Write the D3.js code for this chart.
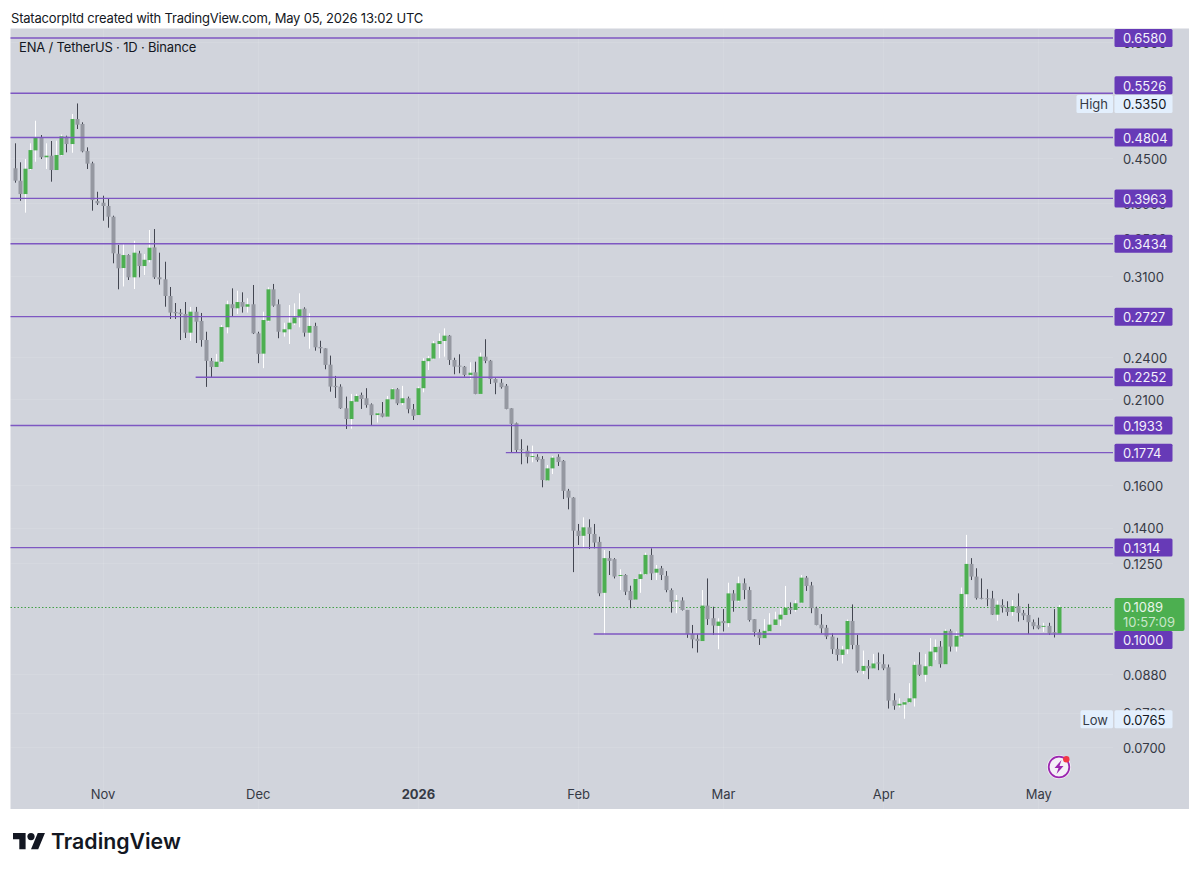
<!DOCTYPE html>
<html>
<head>
<meta charset="utf-8">
<title>ENA / TetherUS 1D</title>
<script src="https://cdnjs.cloudflare.com/ajax/libs/d3/7.8.5/d3.min.js"></script>
<style>
html,body{margin:0;padding:0;background:#fff;}
svg{display:block;}
text{font-family:Inter,"Noto Sans",sans-serif;}
</style>
</head>
<body>
<svg id="chart" width="1200" height="873"></svg>
<script>
// Daily ENA/USDT candles, one entry per session starting 15 Oct 2025.
const firstDay = new Date(Date.UTC(2025, 9, 15));
const lastDay = new Date(Date.UTC(2026, 4, 5));

const opens = [
.4359,.4191,.4018,.4349,.4613,.4812,.4513,.4536,.4335,.4546,
.4817,.4706,.5093,.5014,.4603,.4428,.3930,.3909,.3869,.3740,
.3327,.3180,.3313,.3088,.3331,.3200,.3261,.3395,.3088,.3069,
.2911,.2768,.2762,.2750,.2592,.2770,.2690,.2533,.2371,.2326,
.2365,.2637,.2836,.2800,.2856,.2814,.2836,.2587,.2426,.2692,
.2973,.2836,.2595,.2620,.2670,.2721,.2797,.2592,.2648,.2478,
.2467,.2343,.2191,.2186,.2041,.1973,.2084,.2129,.2107,.2067,
.1998,.2009,.1988,.2100,.2168,.2075,.2107,.2035,.1998,.2175,
.2369,.2388,.2501,.2525,.2568,.2378,.2336,.2328,.2268,.2287,
.2136,.2403,.2373,.2239,.2213,.2192,.2041,.1947,.1793,.1785,
.1750,.1751,.1739,.1625,.1688,.1751,.1729,.1573,.1539,.1386,
.1364,.1401,.1372,.1338,.1139,.1271,.1267,.1202,.1205,.1146,
.1115,.1190,.1208,.1284,.1214,.1231,.1202,.1149,.1109,.1112,
.1079,.1000,.0985,.0978,.1094,.1051,.1026,.1042,.1035,.1137,
.1111,.1174,.1149,.1048,.1006,.0987,.1009,.1029,.1047,.1062,
.1085,.1079,.1104,.1195,.1166,.1085,.1030,.1020,.0992,.0954,
.0936,.0953,.1042,.0966,.0890,.0904,.0897,.0914,.0909,.0900,
.0811,.0798,.0800,.0806,.0816,.0908,.0879,.0903,.0944,.0961,
.0909,.1010,.0961,.0992,.1134,.1248,.1199,.1121,.1120,.1119,
.1063,.1096,.1086,.1072,.1092,.1069,.1062,.1038,.1028,.1023,
.1026,.1006,.1001];

const highs = [
.4717,.4442,.4488,.4717,.5066,.4842,.4717,.4751,.4756,.4850,
.4832,.5175,.5350,.5041,.4657,.4450,.4047,.3997,.3955,.3752,
.3420,.3431,.3321,.3466,.3358,.3324,.3586,.3597,.3338,.3244,
.2995,.2847,.2794,.2856,.2812,.2812,.2759,.2600,.2393,.2424,
.2656,.2868,.2982,.2960,.2945,.2890,.3014,.2600,.2770,.2992,
.3024,.2880,.2675,.2829,.2844,.2936,.2809,.2756,.2675,.2527,
.2467,.2411,.2261,.2202,.2118,.2136,.2136,.2145,.2175,.2073,
.2013,.2082,.2122,.2175,.2175,.2191,.2118,.2069,.2186,.2391,
.2408,.2525,.2587,.2628,.2573,.2395,.2421,.2333,.2361,.2365,
.2434,.2539,.2378,.2244,.2239,.2204,.2041,.1951,.1851,.1814,
.1814,.1765,.1755,.1706,.1755,.1765,.1733,.1582,.1541,.1416,
.1446,.1437,.1416,.1360,.1304,.1300,.1271,.1227,.1208,.1165,
.1192,.1218,.1293,.1311,.1244,.1240,.1220,.1155,.1131,.1123,
.1079,.1029,.0999,.1149,.1192,.1090,.1051,.1082,.1176,.1149,
.1199,.1192,.1161,.1048,.1015,.1048,.1068,.1073,.1085,.1164,
.1105,.1113,.1205,.1201,.1179,.1090,.1065,.1029,.1002,.0988,
.0963,.1047,.1098,.0997,.0949,.0921,.0939,.0943,.0938,.0908,
.0829,.0816,.0808,.0856,.0916,.0944,.0939,.0987,.0983,.0978,
.1015,.1015,.1008,.1158,.1368,.1271,.1231,.1192,.1152,.1146,
.1111,.1116,.1109,.1113,.1137,.1079,.1100,.1047,.1053,.1036,
.1036,.1082,.1096];

const lows = [
.4165,.3933,.3788,.4335,.4450,.4488,.4349,.4178,.4335,.4536,
.4584,.4578,.4935,.4584,.4349,.3812,.3881,.3693,.3612,.3228,
.2973,.3000,.3062,.2976,.3088,.3111,.3238,.3072,.3017,.2814,
.2707,.2707,.2533,.2549,.2527,.2509,.2480,.2184,.2253,.2326,
.2358,.2587,.2726,.2750,.2762,.2762,.2581,.2354,.2317,.2684,
.2814,.2547,.2560,.2501,.2656,.2637,.2560,.2464,.2449,.2429,
.2309,.2151,.2109,.2037,.1912,.1914,.2084,.2037,.2045,.1930,
.1951,.1984,.1988,.2100,.2062,.2062,.2009,.1967,.1998,.2147,
.2304,.2383,.2391,.2403,.2341,.2273,.2280,.2256,.2237,.2134,
.2136,.2354,.2204,.2134,.2172,.2035,.1774,.1774,.1710,.1715,
.1721,.1724,.1590,.1623,.1658,.1701,.1532,.1483,.1216,.1325,
.1311,.1308,.1311,.1127,.0997,.1205,.1192,.1149,.1131,.1085,
.1115,.1139,.1205,.1186,.1186,.1186,.1141,.1070,.1068,.1077,
.0988,.0956,.0943,.0978,.1029,.0997,.0953,.1008,.1022,.1073,
.1107,.1116,.1040,.0992,.0966,.0987,.1008,.1029,.1026,.1062,
.1065,.1073,.1102,.1146,.1068,.1028,.1002,.0984,.0939,.0919,
.0911,.0939,.0953,.0885,.0881,.0867,.0897,.0892,.0892,.0790,
.0787,.0793,.0765,.0804,.0795,.0876,.0860,.0901,.0921,.0899,
.0909,.0946,.0946,.0988,.1088,.1186,.1115,.1116,.1092,.1062,
.1043,.1070,.1059,.1059,.1040,.1045,.1000,.1015,.1015,.1007,
.0997,.0989,.1000];

const closes = [
.4191,.4018,.4353,.4617,.4807,.4513,.4536,.4335,.4546,.4822,
.4706,.5093,.5003,.4598,.4423,.3942,.3902,.3869,.3740,.3331,
.3177,.3313,.3088,.3338,.3200,.3264,.3391,.3088,.3069,.2911,
.2762,.2756,.2748,.2592,.2770,.2684,.2533,.2371,.2326,.2365,
.2639,.2836,.2800,.2856,.2814,.2836,.2587,.2424,.2698,.2973,
.2823,.2600,.2620,.2675,.2721,.2791,.2592,.2648,.2475,.2467,
.2341,.2186,.2182,.2041,.1973,.2088,.2122,.2102,.2062,.1997,
.2009,.1988,.2100,.2168,.2073,.2107,.2035,.1993,.2175,.2371,
.2391,.2507,.2525,.2568,.2378,.2328,.2328,.2268,.2284,.2136,
.2403,.2371,.2239,.2213,.2182,.2037,.1943,.1789,.1789,.1751,
.1755,.1733,.1627,.1688,.1746,.1722,.1572,.1539,.1386,.1363,
.1401,.1372,.1335,.1137,.1271,.1260,.1199,.1205,.1143,.1113,
.1190,.1208,.1284,.1211,.1229,.1205,.1149,.1107,.1112,.1079,
.1000,.0983,.0978,.1094,.1048,.1027,.1040,.1035,.1137,.1111,
.1174,.1149,.1045,.1006,.0987,.1010,.1030,.1047,.1063,.1087,
.1079,.1102,.1195,.1164,.1085,.1029,.1018,.0992,.0953,.0936,
.0952,.1042,.0966,.0890,.0904,.0897,.0911,.0911,.0897,.0810,
.0797,.0802,.0806,.0816,.0907,.0879,.0903,.0946,.0960,.0909,
.1010,.0961,.0994,.1135,.1248,.1199,.1120,.1118,.1116,.1063,
.1097,.1088,.1072,.1092,.1069,.1060,.1038,.1025,.1018,.1026,
.1002,.1002,.1089];

// Horizontal support / resistance levels; a date means the line starts there.
const levelPrices = [0.6580,0.5526,0.4804,0.3963,0.3434,0.2727,0.2252,0.1933,0.1774,0.1314,0.1000];
const levelStarts = [null,null,null,null,null,null,"2025-11-19",null,"2026-01-18",null,"2026-02-04"];

const priceTicks = [0.6500,0.4500,0.3900,0.3500,0.3100,0.2400,0.2100,0.1600,0.1400,0.1250,0.0880,0.0780,0.0700];
const monthTicks = [["Nov",2025,10],["Dec",2025,11],["2026",2026,0],["Feb",2026,1],["Mar",2026,2],["Apr",2026,3],["May",2026,4]];
const highPrice = 0.5350, lowPrice = 0.0765, lastPrice = 0.1089;
const countdown = "10:57:09";
const headline = "Statacorpltd created with TradingView.com, May 05, 2026 13:02 UTC";
const symbolLine = "ENA / TetherUS · 1D · Binance";
const brand = "TradingView";

const paneColor = "#d1d4dc", upColor = "#4caf50", downColor = "#9598a1",
      upWick = "#ffffff", downWick = "#434651", levelColor = "#7e57c2",
      tagColor = "#673ab7", extremeTag = "#e3effd", inkColor = "#363a45";
const labelSize = 13;

const svg = d3.select("#chart");
const pane = {left:10.5, top:28.5, right:1189, bottom:809, axis:1113};

const x = d3.scaleUtc().domain([firstDay,lastDay]).range([14.7,1059]);
const y = d3.scaleLog().domain([0.1,0.658]).range([634,38]);
const dayAt = i => d3.utcDay.offset(firstDay,i);

svg.append("defs").append("clipPath").attr("id","plotClip")
  .append("rect").attr("x",pane.left).attr("y",pane.top)
  .attr("width",pane.axis-pane.left).attr("height",pane.bottom-pane.top);

// Pane background
svg.append("rect").attr("x",pane.left).attr("y",pane.top)
  .attr("width",pane.right-pane.left).attr("height",pane.bottom-pane.top)
  .attr("fill",paneColor);

// Faint grid at the tick positions
const monthDates = monthTicks.map(d => new Date(Date.UTC(d[1],d[2],1)));
const grid = svg.append("g").attr("stroke","#ffffff").attr("stroke-opacity",0.1).attr("stroke-width",1);
grid.selectAll("line.v").data(monthDates).join("line").attr("class","v")
  .attr("x1",d => Math.round(x(d))+.5).attr("x2",d => Math.round(x(d))+.5)
  .attr("y1",pane.top).attr("y2",pane.bottom);
grid.selectAll("line.h").data(priceTicks).join("line").attr("class","h")
  .attr("x1",pane.left).attr("x2",pane.axis)
  .attr("y1",d => Math.round(y(d))+.5).attr("y2",d => Math.round(y(d))+.5);

// Last price dotted guide
svg.append("line").attr("x1",pane.left).attr("x2",pane.axis)
  .attr("y1",Math.round(y(lastPrice))+.5).attr("y2",Math.round(y(lastPrice))+.5)
  .attr("stroke","#43a047").attr("stroke-width",1.1).attr("stroke-dasharray","1.5 2");

// Candles
const candles = opens.map((o,i) => ({date:dayAt(i),o,h:highs[i],l:lows[i],c:closes[i]}));
const candleG = svg.append("g").attr("clip-path","url(#plotClip)");
const one = candleG.selectAll("g").data(candles).join("g");
one.append("line")
  .attr("x1",d => Math.round(x(d.date))+.5).attr("x2",d => Math.round(x(d.date))+.5)
  .attr("y1",d => y(d.h)).attr("y2",d => y(d.l))
  .attr("stroke",d => d.c>=d.o ? upWick : downWick).attr("stroke-width",1);
one.append("rect")
  .attr("x",d => Math.round(x(d.date))-1.5).attr("width",4)
  .attr("y",d => y(Math.max(d.o,d.c)))
  .attr("height",d => Math.max(1,y(Math.min(d.o,d.c))-y(Math.max(d.o,d.c))))
  .attr("fill",d => d.c>=d.o ? upColor : downColor);

// Level lines drawn above the candles
svg.append("g").selectAll("line").data(levelPrices).join("line")
  .attr("x1",(d,i) => levelStarts[i] ? x(new Date(levelStarts[i]+"T00:00:00Z")) : pane.left)
  .attr("x2",pane.axis)
  .attr("y1",d => y(d)).attr("y2",d => y(d))
  .attr("stroke",levelColor).attr("stroke-width",1.4);

// Price axis
const priceAxis = d3.axisRight(y).tickValues(priceTicks).tickFormat(d3.format(".4f")).tickSize(0).tickPadding(0);
const priceG = svg.append("g").attr("transform","translate(1123,0)").call(priceAxis);
priceG.select(".domain").remove();
priceG.selectAll("text").attr("fill",inkColor).attr("font-size",labelSize)
  .attr("font-family","Inter,'Noto Sans',sans-serif").attr("dy","0.37em")
  .attr("transform","translate(0,0.5)");

// Time axis
const timeAxis = d3.axisBottom(x).tickValues(monthDates)
  .tickFormat((d,i) => monthTicks[i][0]).tickSize(0).tickPadding(0);
const timeG = svg.append("g").attr("transform","translate(0,790)").call(timeAxis);
timeG.select(".domain").remove();
timeG.selectAll("text").attr("fill",inkColor).attr("font-size",labelSize)
  .attr("font-family","Inter,'Noto Sans',sans-serif")
  .attr("font-weight",(d,i) => monthTicks[i][0]==="2026" ? 700 : 400)
  .attr("dy","0.71em");

// Price tags
function priceTag(value,cy,fill,ink,h){
  const g = svg.append("g");
  g.append("rect").attr("x",1114.5).attr("y",cy-9).attr("width",58).attr("height",h||18)
    .attr("rx",1.5).attr("fill",fill);
  g.append("text").attr("x",1123).attr("y",cy+0.5).attr("dy","0.37em")
    .attr("font-size",labelSize).attr("fill",ink).text(d3.format(".4f")(value));
}
// Tags that would collide with the high and last-price flags are pushed aside.
const tagShift = v => v===0.5526 ? -8 : v===0.1 ? 6 : 0;
levelPrices.forEach(v => priceTag(v,y(v)+tagShift(v),tagColor,"#f4f1fb"));

function extremeFlag(word,value,left){
  const cy = y(value)+0.5;
  svg.append("rect").attr("x",left).attr("y",cy-9).attr("width",1113-left).attr("height",18).attr("rx",1.5).attr("fill",extremeTag);
  svg.append("text").attr("x",1108).attr("y",cy+0.5).attr("dy","0.37em").attr("text-anchor","end")
    .attr("font-size",labelSize).attr("fill",inkColor).text(word);
  priceTag(value,cy,extremeTag,"#131722");
}
extremeFlag("High",highPrice,1076.5);
extremeFlag("Low",lowPrice,1080.5);

// Last price flag with the bar countdown
const lastTop = 598;
svg.append("rect").attr("x",1114.5).attr("y",lastTop).attr("width",70).attr("height",33).attr("rx",2).attr("fill",upColor);
svg.append("text").attr("x",1123).attr("y",y(lastPrice)+0.5).attr("dy","0.37em")
  .attr("font-size",labelSize).attr("fill","#e8f5e9").text(d3.format(".4f")(lastPrice));
svg.append("text").attr("x",1123).attr("y",622).attr("dy","0.37em")
  .attr("font-size",labelSize).attr("fill","#c8e6c9").text(countdown);

// Header and symbol line
svg.append("text").attr("x",11).attr("y",18).attr("dy","0.37em")
  .attr("font-size",13).attr("letter-spacing",-0.2).attr("fill","#131722").text(headline);
svg.append("text").attr("x",19).attr("y",47).attr("dy","0.37em")
  .attr("font-size",13).attr("letter-spacing",-0.17).attr("fill","#131722").text(symbolLine);

// Bolt badge near the last bars
const badge = svg.append("g").attr("transform","translate(1059,767)");
badge.append("circle").attr("r",12).attr("fill","#f4f0f7");
badge.append("circle").attr("r",10.3).attr("fill","none").attr("stroke","#9c27b0").attr("stroke-width",1.8);
badge.append("path").attr("d","M2.5 -7 L-4.5 1 L-0.5 1 L-2.5 7 L4.5 -1 L0.5 -1 Z").attr("fill","#9c27b0");
badge.append("circle").attr("cx",7.3).attr("cy",-7.8).attr("r",3.2).attr("fill","#f23645");

// Brand mark
const mark = svg.append("g").attr("transform","translate(13,829.4) scale(0.9)").attr("fill","#131722");
mark.append("path").attr("d","M14 22H7V11H0V4h14v18zM28 22h-8l7.5-18h8L28 22z");
mark.append("circle").attr("cx",20).attr("cy",8).attr("r",4);
svg.append("text").attr("x",51).attr("y",841).attr("dy","0.37em")
  .attr("font-size",21.3).attr("font-weight",600).attr("fill","#131722").text(brand);
</script>
</body>
</html>
